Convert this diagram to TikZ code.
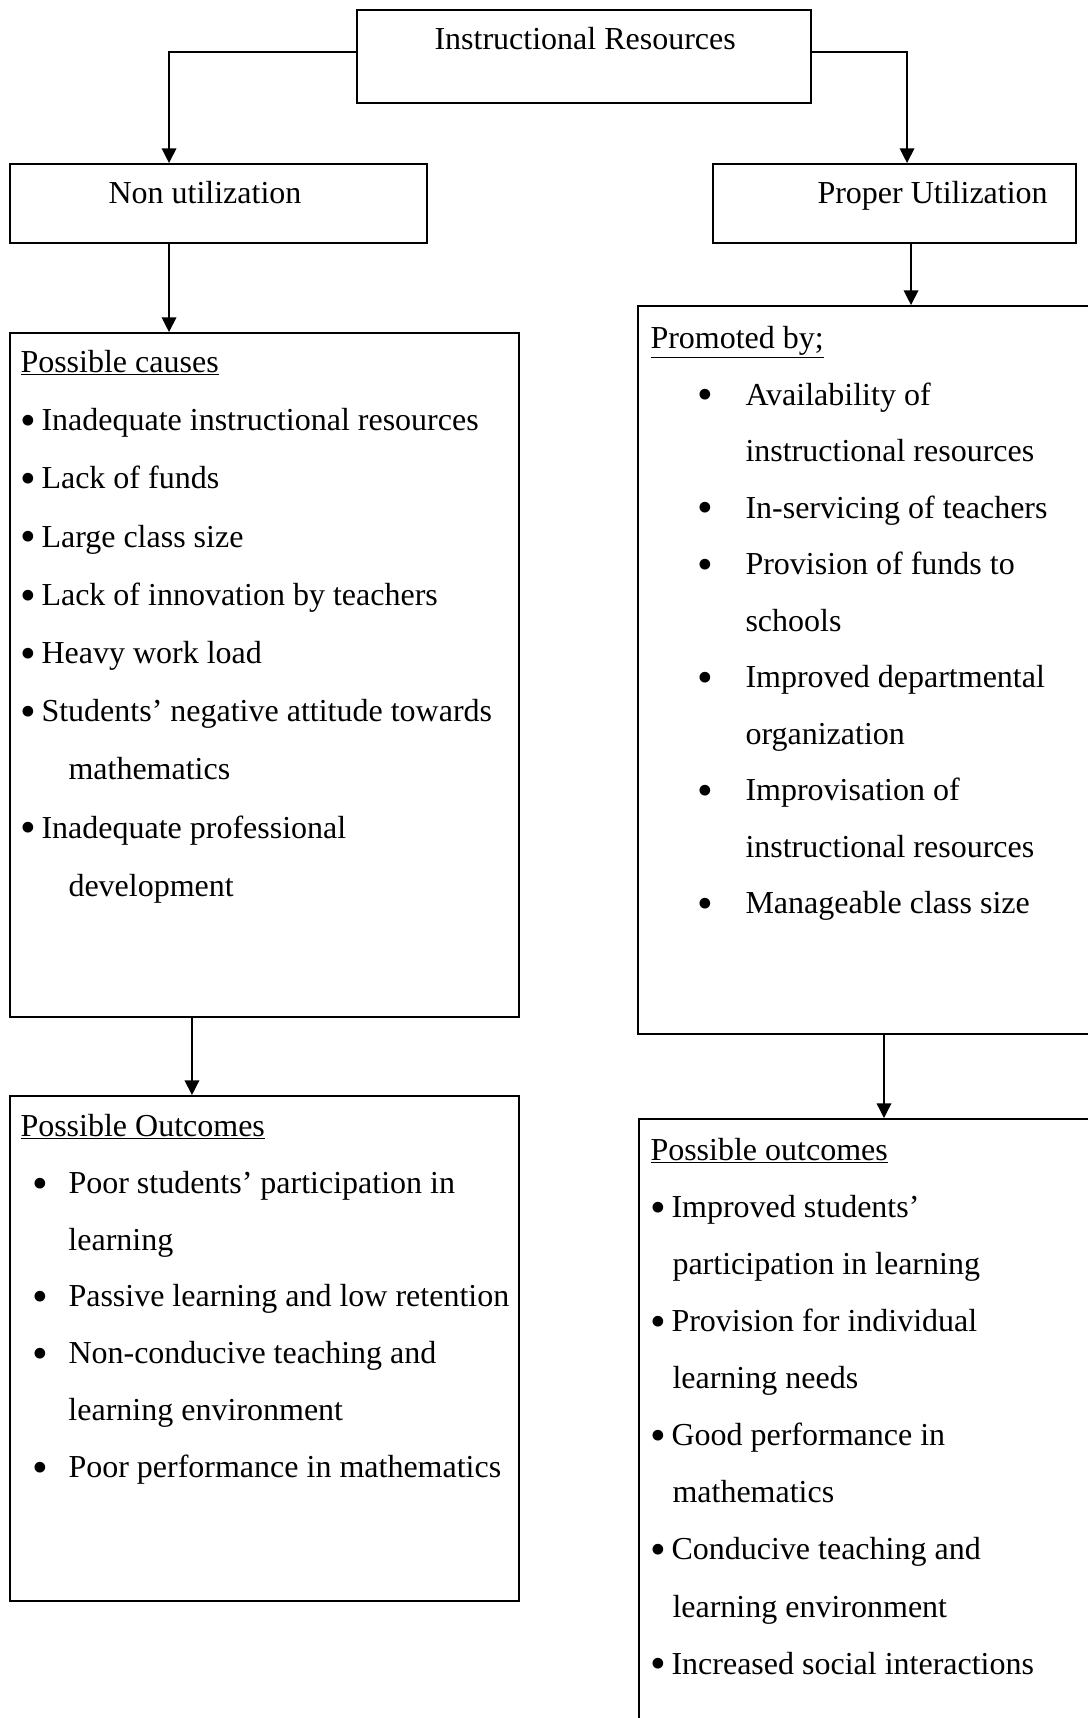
\documentclass[tikz,border=0pt]{standalone}
\usepackage{fontspec}
\usepackage{graphicx}
\setmainfont{Liberation Serif}
\usetikzlibrary{arrows.meta}

\tikzset{every picture/.style={line width=0.75pt}}
\tikzset{
  box/.style={draw, line width=1.5pt, inner sep=0pt},
  arr/.style={line width=1pt, -{Triangle[length=11pt,width=11pt]}},
  txt/.style={anchor=base west, inner sep=0pt, align=left},
  list/.style={anchor=north west, inner sep=0pt, align=left},
}
% first line of a list: fixed height above its baseline
\newcommand{\first}{\rule{0pt}{18pt}}
% bullets for the lists
\newcommand{\bul}{\raisebox{-0.15em}{\scalebox{1.4}{\textbullet}}}
\newcommand{\sbul}{\bul\hspace*{4pt}}
\newcommand{\pbul}{\hspace*{35.5pt}\makebox[35.75pt][l]{\bul}}
\newcommand{\pind}{\hspace*{71.25pt}}
\newcommand{\obul}{\hspace*{9pt}\makebox[27pt][l]{\bul}}
\newcommand{\oind}{\hspace*{36pt}}

\begin{document}
\begin{tikzpicture}[x=0.75pt,y=0.75pt,yscale=-1,xscale=1]
    \useasboundingbox (0,0) rectangle (1088,1718);
    \clip (0,0) rectangle (1088,1718);

    %Rect
    \node[box, minimum width=340.5pt, minimum height=69.75pt] (top) at (584,56.5) {};
    %Rect
    \node[box, minimum width=312.75pt, minimum height=59.25pt] (nonu) at (218.5,203.5) {};
    %Rect
    \node[box, minimum width=272.25pt, minimum height=59.25pt] (proper) at (894.5,203.5) {};
    %Rect
    \node[box, minimum width=381.75pt, minimum height=513pt] (causes) at (264.5,675) {};
    %Rect
    \node[box, minimum width=346.5pt, minimum height=546pt] (promoted) at (869,670) {};
    %Rect
    \node[box, minimum width=381.75pt, minimum height=378.75pt] (outl) at (264.5,1348.5) {};
    %Rect
    \node[box, minimum width=345.75pt, minimum height=458.25pt] (outr) at (869.5,1424.5) {};

    %Straight Lines
    \draw[arr] ([yshift=-3.4pt]top.west) -| ([xshift=-37.1pt]nonu.north);
    \draw[arr] ([yshift=-3.4pt]top.east) -| ([xshift=9.4pt]proper.north);
    \draw[arr] ([xshift=-37.1pt]nonu.south) -- ([xshift=-37.1pt]nonu.south |- causes.north);
    \draw[arr] ([xshift=12.4pt]proper.south) -- ([xshift=12.4pt]proper.south |- promoted.north);
    \draw[arr] ([xshift=-54.4pt]causes.south) -- ([xshift=-54.4pt]causes.south |- outl.north);
    \draw[arr] ([xshift=11.25pt]promoted.south) -- ([xshift=11.25pt]promoted.south |- outr.north);

    % Text Node
    \node[txt, font=\fontsize{24}{43}\selectfont] (toptxt) at (434,49) {Instructional Resources};
    % Text Node
    \node[txt, font=\fontsize{24}{43}\selectfont] (nonutxt) at (108,203) {Non utilization};
    % Text Node
    \node[txt, font=\fontsize{24}{43}\selectfont] (propertxt) at (817,203) {Proper Utilization};
    % Text Node (first baseline at y=372)
    \node[list, font=\fontsize{24}{43.65}\selectfont] (causestxt) at (20,348) {\first\underline{Possible causes}\\
      \sbul Inadequate instructional resources\\
      \sbul Lack of funds\\
      \sbul Large class size\\
      \sbul Lack of innovation by teachers\\
      \sbul Heavy work load\\
      \sbul Students’ negative attitude towards\\
      \oind mathematics\\
      \sbul Inadequate professional\\
      \oind development};
    % Text Node (first baseline at y=348)
    \node[list, font=\fontsize{24}{42.4}\selectfont] (promotedtxt) at (650,324) {\first\underline{Promoted by;}\\
      \pbul Availability of\\
      \pind instructional resources\\
      \pbul In-servicing of teachers\\
      \pbul Provision of funds to\\
      \pind schools\\
      \pbul Improved departmental\\
      \pind organization\\
      \pbul Improvisation of\\
      \pind instructional resources\\
      \pbul Manageable class size};
    % Text Node (first baseline at y=1136)
    \node[list, font=\fontsize{24}{42.6}\selectfont] (outltxt) at (20,1112) {\first\underline{Possible Outcomes}\\
      \obul Poor students’ participation in\\
      \oind learning\\
      \obul Passive learning and low retention\\
      \obul Non-conducive teaching and\\
      \oind learning environment\\
      \obul Poor performance in mathematics};
    % Text Node (first baseline at y=1160)
    \node[list, font=\fontsize{24}{42.8}\selectfont] (outrtxt) at (650,1136) {\first\underline{Possible outcomes}\\
      \sbul Improved students’\\
      \hspace*{16.5pt}participation in learning\\
      \sbul Provision for individual\\
      \hspace*{16.5pt}learning needs\\
      \sbul Good performance in\\
      \hspace*{16.5pt}mathematics\\
      \sbul Conducive teaching and\\
      \hspace*{16.5pt}learning environment\\
      \sbul Increased social interactions};

\end{tikzpicture}
\end{document}
